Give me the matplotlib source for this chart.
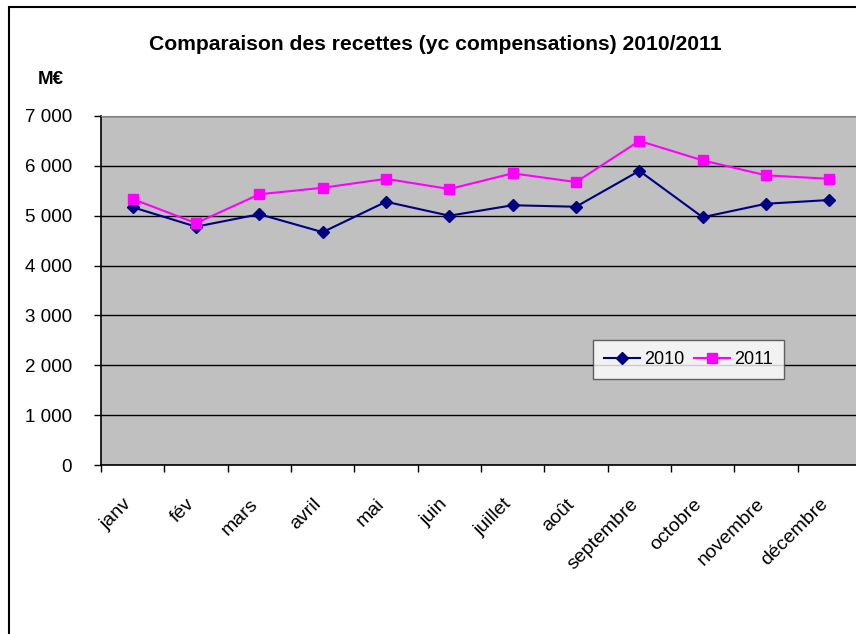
import numpy as np
import matplotlib
matplotlib.use('Agg')
import matplotlib.pyplot as plt
import matplotlib.transforms as mtransforms
from matplotlib.patches import Rectangle
from matplotlib.ticker import FuncFormatter

plt.rcParams['font.family'] = ['Liberation Sans', 'DejaVu Sans']

mois = ['janv', 'fév', 'mars', 'avril', 'mai', 'juin', 'juillet', 'août',
        'septembre', 'octobre', 'novembre', 'décembre']
recettes_2010 = [5170, 4780, 5030, 4670, 5280, 5000, 5210, 5180, 5900, 4970, 5240, 5315]
recettes_2011 = [5335, 4850, 5430, 5560, 5740, 5535, 5850, 5675, 6500, 6110, 5810, 5740]

W, H = 856, 634
fig = plt.figure(figsize=(W / 100, H / 100), dpi=100)

# cadre du graphique (sort de l'image a droite et en bas)
fig.patches.append(Rectangle((9 / W, -0.1), 1.2, 1 - 7 / H + 0.1, transform=fig.transFigure,
                             fill=False, edgecolor='black', lw=1.5, zorder=0))

ax = fig.add_axes([101 / W, 1 - 465 / H, 760 / W, 349 / H])
ax.set_facecolor('#C0C0C0')

x = np.arange(1, len(mois) + 1)
ax.plot(x, recettes_2010, color='#000080', lw=1.5, marker='D', ms=6.5,
        label='2010', zorder=3)
ax.plot(x, recettes_2011, color='#FF00FF', lw=1.5, marker='s', ms=7,
        label='2011', zorder=3)

ax.set_xlim(0.5, 12.5)
ax.set_ylim(0, 7000)
ax.set_yticks(np.arange(0, 7001, 1000))
ax.yaxis.set_major_formatter(FuncFormatter(lambda v, p: f'{int(v):,}'.replace(',', ' ')))
ax.grid(axis='y', color='black', lw=1)
ax.set_axisbelow(True)

ax.set_xticks(x)
ax.set_xticklabels(mois, rotation=45, ha='right', va='top', rotation_mode='anchor')
ax.set_xticks(np.arange(0.5, 12.6, 1), minor=True)
ax.tick_params(axis='x', which='major', length=0, pad=22, labelsize=14)
ax.tick_params(axis='x', which='minor', length=5, direction='out', width=1)
ax.tick_params(axis='y', length=5, direction='out', width=1, labelsize=13.5, pad=16)
decal = mtransforms.ScaledTranslation(-10 / 100, 0, fig.dpi_scale_trans)
for lab in ax.get_xticklabels():
    lab.set_transform(lab.get_transform() + decal)

for s in ['left', 'bottom']:
    ax.spines[s].set_color('black')
    ax.spines[s].set_linewidth(1.2)
ax.spines['top'].set_color('#808080')
ax.spines['right'].set_visible(False)

leg = ax.legend(ncol=2, loc='upper left', bbox_to_anchor=((593 - 101) / 760, (465 - 340) / 349),
                borderaxespad=0, fontsize=13, frameon=True, fancybox=False,
                edgecolor='#404040', handlelength=2.0, columnspacing=0.5,
                handletextpad=0.25, borderpad=0.6)
leg.get_frame().set_linewidth(1)

fig.text(435 / W, 1 - 45 / H, 'Comparaison des recettes (yc compensations) 2010/2011',
         ha='center', va='center', fontsize=15.2, fontweight='bold')
fig.text(51 / W, 1 - 80 / H, 'M€', ha='center', va='center', fontsize=13.5, fontweight='bold')

fig.savefig('out.png', dpi=100)
